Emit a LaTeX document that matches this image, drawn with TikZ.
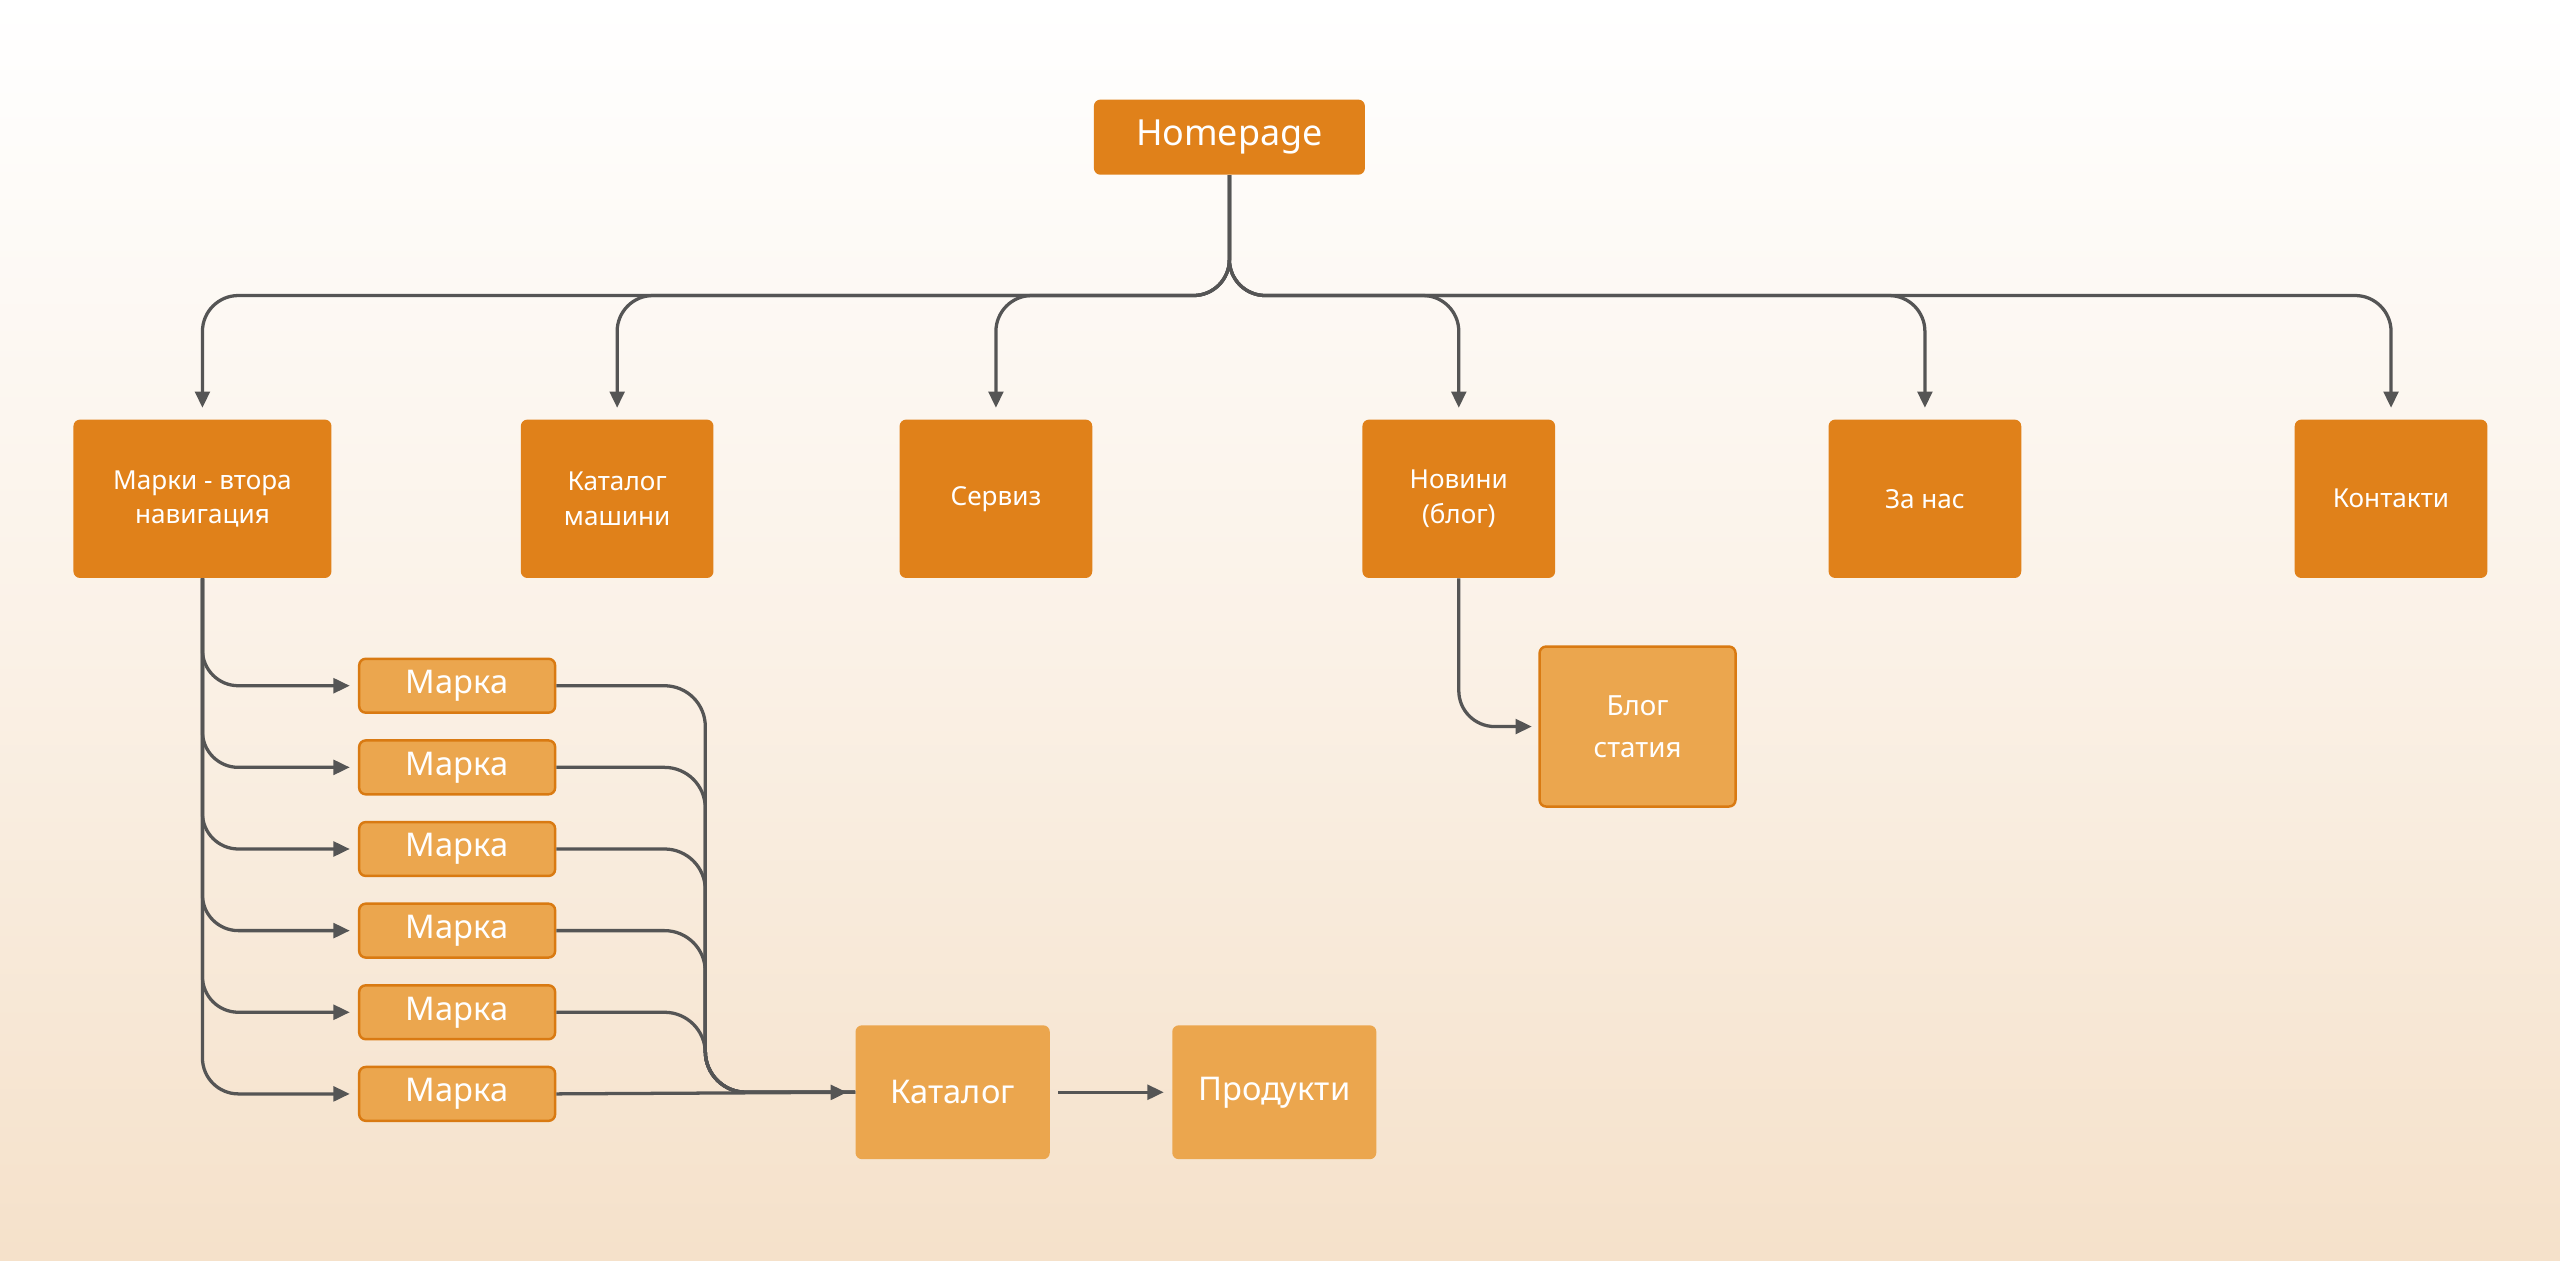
\documentclass[tikz,border=0pt]{standalone}
\usepackage{fontspec}
\setmainfont{Noto Sans}
\usetikzlibrary{positioning,arrows.meta}
\definecolor{darkor}{HTML}{E0811A}
\definecolor{lightor}{HTML}{EBA64E}
\definecolor{lineor}{HTML}{D97A12}
\definecolor{wire}{HTML}{555555}
\definecolor{peach}{HTML}{F5E1CA}
\tikzset{
  main/.style={fill=darkor, text=white, rounded corners=4pt, font=\bfseries\fontsize{16}{21}\selectfont, align=center, inner sep=0pt},
  sub/.style={fill=lightor, text=white, rounded corners=4pt, font=\fontsize{20}{26}\selectfont, align=center, inner sep=0pt},
  brand/.style={sub, draw=lineor, line width=1.5pt, minimum width=120pt, minimum height=33pt},
  link/.style={draw=wire, line width=2pt, -{Triangle[length=10pt,width=9pt]}, rounded corners=22pt}
}
\begin{document}
\begin{tikzpicture}[x=1pt,y=1pt,yscale=-1]
\shade[top color=white, bottom color=peach, middle color=peach!45] (0,0) rectangle (1568,772);
\useasboundingbox (0,0) rectangle (1568,772);

% top
\node[main, minimum width=166pt, minimum height=46pt, font=\bfseries\fontsize{22}{26}\selectfont] (home) at (753,84) {Homepage};
\coordinate (bus) at (753,181);

% first level
\node[main, minimum width=158pt, minimum height=97pt] (marki) at (124,305.5) {Марки - втора\\навигация};
\node[main, minimum width=118pt, minimum height=97pt] (katm) at (378,305.5) {Каталог\\машини};
\node[main, minimum width=118pt, minimum height=97pt] (serv) at (610,305.5) {Сервиз};
\node[main, minimum width=118pt, minimum height=97pt] (news) at (893.5,305.5) {Новини\\(блог)};
\node[main, minimum width=118pt, minimum height=97pt] (about) at (1179,305.5) {За нас};
\node[main, minimum width=118pt, minimum height=97pt] (cont) at (1464.5,305.5) {Контакти};

\foreach \n in {marki,katm,serv,news,about,cont}
  \draw[link, shorten >=7pt] (home.south) -- (home.south |- bus) -| (\n.north);

% brands
\foreach \i/\y in {1/420,2/470,3/520,4/570,5/620,6/670}
  \node[brand] (mk\i) at (280,\y) {Марка};

\node[sub, minimum width=119pt, minimum height=82pt] (cat) at (583.5,669) {Каталог};
\node[sub, minimum width=125pt, minimum height=82pt] (prod) at (780.5,669) {Продукти};
\coordinate (join) at (432,669);

\foreach \i in {1,...,6}
  \draw[link, shorten >=5pt] (marki.south) |- (mk\i.west);
\foreach \i in {1,...,5}
  \draw[link, -, rounded corners=25pt] (mk\i.east) -| (join) -- (cat.west);
\draw[link, shorten >=5pt] (mk6.east) -- (cat.west);
\draw[link, shorten >=5pt, shorten <=5pt] (cat.east) -- (prod.west);

% blog
\node[sub, draw=lineor, line width=1.5pt, minimum width=120pt, minimum height=98pt, font=\fontsize{17}{26}\selectfont] (blog) at (1003,445) {Блог\\статия};
\draw[link, shorten >=4pt] (news.south) |- (blog.west);
\end{tikzpicture}
\end{document}
